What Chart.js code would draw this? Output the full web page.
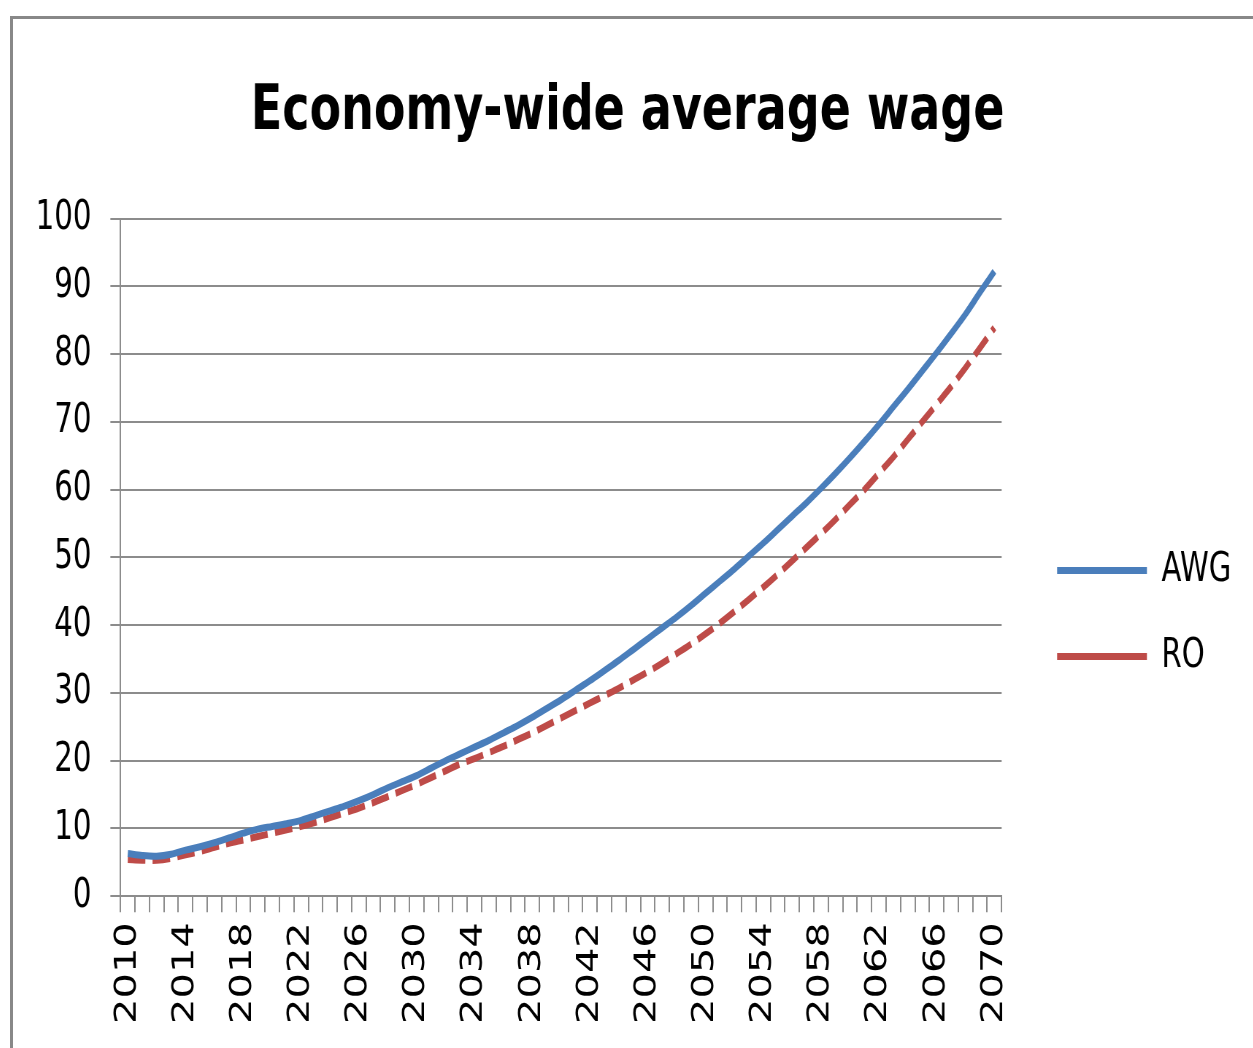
<!DOCTYPE html>
<html>
<head>
<meta charset="utf-8">
<script src="https://cdn.jsdelivr.net/npm/chart.js@4.4.0/dist/chart.umd.min.js"></script>
<style>
  body { margin: 0; background: #fff; }
  #frame {
    position: absolute; left: 10px; top: 16px;
    width: 1243px; height: 1032px;
    border-top: 3px solid #888; border-left: 3px solid #888;
    overflow: hidden;
  }
  /* the original picture is squeezed sideways, so the canvas is too */
  #wageChart { transform: scaleX(0.73); transform-origin: 0 0; }
</style>
</head>
<body>
<div id="frame"><canvas id="wageChart" width="1699" height="1029"></canvas></div>
<script>
// years on the category axis
const years = [];
for (let y = 2010; y <= 2070; y++) years.push(String(y));

// values (index 0 = 2010)
const awg = [
  6.3, 6.0, 5.9, 6.2, 6.8, 7.3, 7.9, 8.6, 9.3, 9.9,
  10.3, 10.7, 11.2, 11.9, 12.6, 13.3, 14.1, 15.0, 16.0, 16.9,
  17.8, 18.9, 20.0, 21.0, 22.0, 23.0, 24.1, 25.2, 26.4, 27.7,
  29.0, 30.4, 31.8, 33.3, 34.8, 36.4, 38.0, 39.6, 41.2, 42.9,
  44.7, 46.5, 48.3, 50.2, 52.1, 54.1, 56.1, 58.1, 60.2, 62.4,
  64.7, 67.1, 69.6, 72.2, 74.8, 77.5, 80.2, 83.0, 85.9, 89.1,
  92.2
];
const ro = [
  5.4, 5.3, 5.3, 5.6, 6.1, 6.6, 7.2, 7.8, 8.3, 8.8,
  9.3, 9.8, 10.3, 10.9, 11.6, 12.3, 13.0, 13.8, 14.7, 15.6,
  16.5, 17.5, 18.5, 19.5, 20.3, 21.2, 22.1, 23.1, 24.1, 25.2,
  26.3, 27.4, 28.5, 29.6, 30.7, 31.9, 33.1, 34.4, 35.8, 37.2,
  38.7, 40.3, 42.0, 43.8, 45.6, 47.5, 49.5, 51.5, 53.5, 55.6,
  57.8, 60.0, 62.4, 64.8, 67.4, 70.0, 72.6, 75.2, 78.0, 80.9,
  83.9
];
const labelEvery = 4; // only every 4th year gets a label
const yMax = 100;
const yStep = 10;

const font = "'DejaVu Sans', sans-serif";
const gridGray = '#8c8c8c';

const ctx = document.getElementById('wageChart').getContext('2d');
const wageChart = new Chart(ctx, {
  type: 'line',
  data: {
    labels: years,
    datasets: [{
      label: 'AWG',
      data: awg,
      borderColor: '#4a7ebb',
      backgroundColor: '#4a7ebb',
      borderWidth: 7,
      pointRadius: 0,
      tension: 0.35
    }, {
      label: 'RO',
      data: ro,
      borderColor: '#be4b48',
      backgroundColor: '#be4b48',
      borderWidth: 7,
      borderDash: [24, 10],
      pointRadius: 0,
      tension: 0.35
    }]
  },
  options: {
    responsive: false,
    animation: false,
    layout: { padding: { left: 5, right: 20, bottom: 14 } },
    plugins: {
      title: {
        display: true,
        text: 'Economy-wide average wage',
        color: '#000',
        font: { family: font, size: 63, weight: 'bold' },
        padding: { top: 56, bottom: 68 }
      },
      legend: {
        position: 'right',
        maxWidth: 340,
        // empty title only pushes the entries down a bit
        title: { display: true, text: '', font: { size: 100 }, padding: 27 },
        labels: {
          usePointStyle: true,
          pointStyle: 'line',
          pointStyleWidth: 123,
          color: '#000',
          font: { family: font, size: 40 },
          padding: 46
        }
      },
      tooltip: { enabled: false }
    },
    scales: {
      x: {
        offset: true,
        grid: {
          offset: true,
          drawOnChartArea: false,
          drawTicks: true,
          tickLength: 16,
          color: gridGray,
          lineWidth: 2
        },
        border: { color: gridGray, width: 2 },
        ticks: {
          autoSkip: false,
          minRotation: 90,
          maxRotation: 90,
          color: '#000',
          padding: 10,
          font: { family: font, size: 40 },
          callback: function(value, index) {
            return index % labelEvery === 0 ? this.getLabelForValue(value) : '';
          }
        }
      },
      y: {
        min: 0,
        max: yMax,
        grid: { color: gridGray, lineWidth: 2, tickLength: 14 },
        border: { color: gridGray, width: 2 },
        ticks: {
          stepSize: yStep,
          color: '#000',
          padding: 26,
          font: { family: font, size: 40 }
        }
      },
      // empty axis, just keeps a gap between plot and legend
      gap: {
        position: 'right',
        display: true,
        grid: { display: false },
        border: { display: false },
        ticks: { display: false },
        afterFit: function(scale) { scale.width = 30; }
      }
    }
  }
});
</script>
</body>
</html>
